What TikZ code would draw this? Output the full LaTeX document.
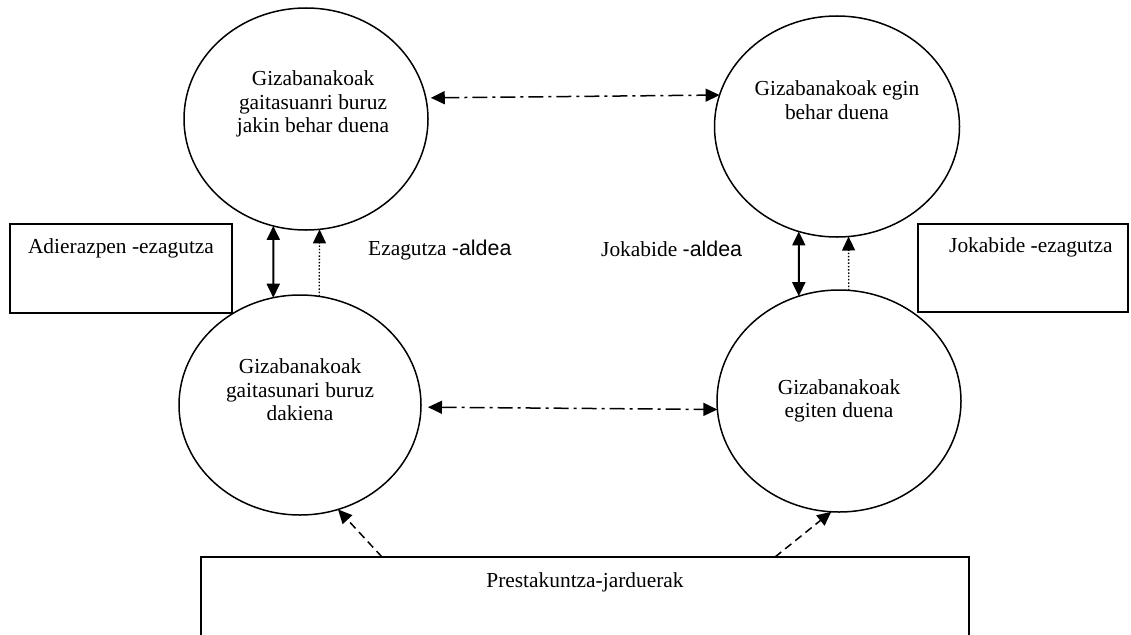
\documentclass[tikz,border=0pt]{standalone}
\usepackage{fontspec}
\setmainfont{Liberation Serif}
\newfontfamily\sansfam{Liberation Sans}
\usetikzlibrary{shapes.geometric,arrows.meta,calc}
\begin{document}
\begin{tikzpicture}[x=1pt,y=-1pt,
  bubble/.style={ellipse, draw, line width=1.5pt, outer sep=0pt, inner sep=0pt},
  frame/.style={rectangle, draw, line width=1.8pt, outer sep=0pt, inner sep=0pt},
  txt/.style={font=\fontsize{21.4}{23.5}\selectfont, align=center, inner sep=0pt},
  tip/.style={-{Triangle[length=14pt,width=13pt]}},
  twotip/.style={{Triangle[length=14pt,width=13pt]}-{Triangle[length=14pt,width=13pt]}},
  dashdot/.style={twotip, line width=1.5pt, dash pattern=on 15pt off 5pt on 3pt off 5pt},
  solidlink/.style={twotip, line width=2pt},
  dotlink/.style={tip, line width=1.3pt, dash pattern=on 1.5pt off 1.8pt},
  dashlink/.style={tip, line width=1.5pt, dash pattern=on 8pt off 5pt}]
\useasboundingbox (0,0) rectangle (1131,634);
\clip (0,0) rectangle (1131,634);

% the four competence bubbles
\node[bubble, minimum width=244pt, minimum height=222pt] (kl) at (306,119) {};
\node[bubble, minimum width=245pt, minimum height=221pt] (kr) at (837,126.5) {};
\node[bubble, minimum width=242pt, minimum height=220pt] (dl) at (300,405) {};
\node[bubble, minimum width=244pt, minimum height=222pt] (dr) at (839,401) {};

\node[txt] (kl-t) at (313,104) {Gizabanakoak\\gaitasuanri buruz\\jakin behar duena};
\node[txt] (kr-t) at (837,100) {Gizabanakoak egin\\behar duena};
\node[txt] (dl-t) at (300,390) {Gizabanakoak\\gaitasunari buruz\\dakiena};
\node[txt] (dr-t) at (839,401) {Gizabanakoak\\egiten duena};

% gap labels
\node[txt, anchor=base west] (ez) at (368,255) {Ezagutza {\sansfam -aldea}};
\node[txt, anchor=base west] (jk) at (601,256) {Jokabide {\sansfam -aldea}};

% side boxes
\node[frame, minimum width=222pt, minimum height=89pt] (ad) at (121,268.5) {};
\node[txt, anchor=base] (ad-t) at (121,253) {Adierazpen -ezagutza};
\node[frame, minimum width=210pt, minimum height=88pt] (jb) at (1023,268) {};
\node[txt, anchor=base west] (jb-t) at (949,252) {Jokabide -ezagutza};

% training activities box
\node[frame, minimum width=768pt, minimum height=123pt] (pb) at (585,618.5) {};
\node[txt, anchor=base] (pb-t) at (585,587) {Prestakuntza-jarduerak};

% horizontal links
\draw[dashdot, shorten <=5pt] (kl.10.9) -- (kr.165.5);
\draw[dashdot, shorten <=7pt] (dl.-1.9) -- (dr.-176.2);

% vertical links
\draw[solidlink] (kl.-107.7) -- (dl.104.7);
\draw[dotlink] (dl.80.6) -- (kl.-83.8);
\draw[solidlink] (kr.-110.4) -- (dr.111.4);
\draw[dotlink] (dr.85.4) -- (kr.-84.3);

% training feeds the lower bubbles
\draw[dashlink] ($(pb.north west)!0.2357!(pb.north east)$) -- (dl.-70.4);
\draw[dashlink] ($(pb.north west)!0.7474!(pb.north east)$) -- (dr.-94.6);
\end{tikzpicture}
\end{document}
